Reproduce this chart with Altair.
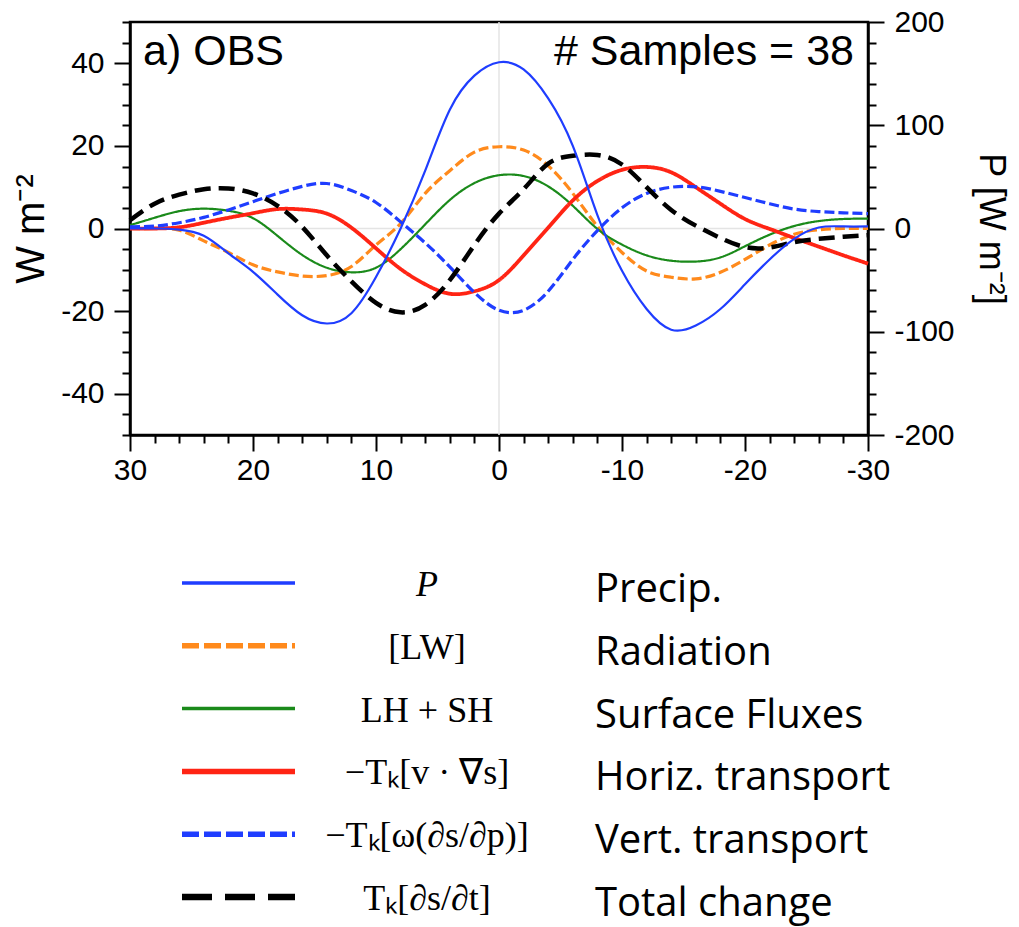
import altair as alt
import pandas as pd

# ---------------- data ----------------
lag = [30, 28, 26, 24, 22, 20, 18, 16, 14, 12, 10, 8, 6, 4, 2, 0,
       -2, -4, -6, -8, -10, -12, -14, -16, -18, -20, -22, -24, -26, -28, -30]

# Precip (right axis, W m-2)
precip = [0, 0, -1, -7, -24, -42, -64, -84, -92, -82, -47, 0, 56, 115, 148, 161,
          154, 126, 80, 13, -41, -78, -98, -94, -78, -54, -30, -10, 1, 2, 2]
# Radiation [LW]
radiation = [0, 0, -0.4, -3, -5.8, -8.8, -10.5, -11.5, -11.4, -9.2, -4, 1.2, 8.5, 14, 18.5, 19.8,
             19, 15.2, 8.5, 0.5, -5.8, -10.3, -11.8, -12.2, -10.6, -7.5, -4, -1.4, -0.3, 0, 0]
# Surface fluxes LH + SH
surface = [0.8, 2.6, 4.2, 4.8, 4.3, 2.5, -1.8, -6.4, -9.5, -10.6, -9.5, -5, 1, 6.9, 11, 12.9,
           12.7, 10.2, 5.5, -0.1, -3.9, -6.5, -7.8, -8, -7, -4.3, -1.5, 0.6, 1.8, 2.3, 2.4]
# Horizontal transport
horiz = [0, 0, 0.3, 1.4, 2.6, 3.7, 4.7, 4.6, 3.6, 0.2, -4.8, -9.8, -13.5, -15.8, -15.2, -12.5,
         -6.5, 0.2, 6.8, 11.5, 14.2, 14.9, 13.6, 10, 6, 2.3, -0.1, -2.3, -4.4, -6.5, -8.5]
# Vertical transport
vert = [0.4, 0.6, 1.4, 2.7, 4.5, 6.5, 8.5, 10.2, 10.9, 9.2, 6.3, 1.6, -3.5, -9.3, -15.5, -19.8,
        -19.8, -15.2, -7.5, -0.5, 5, 8.5, 10, 10.1, 9, 7.5, 6, 4.7, 4.1, 3.8, 3.6]
# Total change
total = [2, 6, 8.2, 9.5, 9.7, 8.5, 5.5, 0.4, -6.5, -12.8, -18, -20.3, -18.5, -12.5, -4, 3.6,
         9.5, 15.7, 17.6, 17.8, 15.5, 10, 4.5, 0.7, -2.3, -4.5, -4.6, -3.3, -2.5, -2, -1.6]

legend_keys = ["P", "LW", "SF", "HT", "VT", "TC"]
legend_math = ["P", "[LW]", "LH + SH", "−Tₖ[v · ∇s]", "−Tₖ[ω(∂s/∂p)]", "Tₖ[∂s/∂t]"]
legend_desc = ["Precip.", "Radiation", "Surface Fluxes", "Horiz. transport",
               "Vert. transport", "Total change"]

# ---------------- styles ----------------
BLUE, ORANGE, GREEN, RED, BLACK = "#1f3dff", "#ff8a1c", "#1a8a1a", "#ff2414", "#000000"
styles = {
    "P":  dict(color=BLUE,   width=2.2, dash=[1, 0], lw=3.5, ldash=[1, 0]),
    "LW": dict(color=ORANGE, width=3.2, dash=[10, 4], lw=5.5, ldash=[17, 5]),
    "SF": dict(color=GREEN,  width=2.2, dash=[1, 0], lw=3.5, ldash=[1, 0]),
    "HT": dict(color=RED,    width=3.8, dash=[1, 0], lw=5.5, ldash=[1, 0]),
    "VT": dict(color=BLUE,   width=3.2, dash=[10, 4], lw=5.5, ldash=[17, 5]),
    "TC": dict(color=BLACK,  width=4.5, dash=[16, 8], lw=6.5, ldash=[30, 13]),
}

df = pd.DataFrame({"lag": lag, "P": precip, "LW": radiation, "SF": surface,
                   "HT": horiz, "VT": vert, "TC": total})
leg = pd.DataFrame({"key": legend_keys, "math": legend_math, "desc": legend_desc})

W, H = 738, 413
AX_FONT = "Liberation Sans"
INTERP = "natural"

x_axis = alt.Axis(values=list(range(-30, 31, 2)),
                  labelExpr="datum.value % 10 === 0 ? '' + datum.value : ''",
                  tickSize={"condition": {"test": "datum.value % 10 === 0", "value": 16}, "value": 8},
                  labelFlush=False, labelOverlap=False, labelPadding=4, title=None, grid=False)
x_scale = alt.Scale(domain=[-30, 30], reverse=True, nice=False, zero=False)


def xenc(field="lag"):
    return alt.X(f"{field}:Q", scale=x_scale, axis=x_axis)


yl_scale = alt.Scale(domain=[-50, 50], nice=False, zero=False)
yl_axis = alt.Axis(values=list(range(-50, 51, 5)),
                   labelExpr="datum.value % 20 === 0 && abs(datum.value) < 50 ? '' + datum.value : ''",
                   tickSize={"condition": {"test": "datum.value % 20 === 0", "value": 16}, "value": 8},
                   labelOverlap=False, labelPadding=10, labelFlush=False, grid=False,
                   title="W m⁻²", titlePadding=9)

base = alt.Chart(df)

zero_h = alt.Chart(pd.DataFrame({"v": [0]})).mark_rule(color="#e4e4e4", strokeWidth=1.5).encode(
    y=alt.Y("v:Q", scale=yl_scale, axis=yl_axis))
zero_v = alt.Chart(pd.DataFrame({"lag": [0]})).mark_rule(color="#e4e4e4", strokeWidth=1.5).encode(
    x=xenc())

left_layers = [zero_h, zero_v]
for key in ["LW", "SF", "HT", "VT", "TC"]:
    s = styles[key]
    left_layers.append(
        base.mark_line(color=s["color"], strokeWidth=s["width"], strokeDash=s["dash"],
                       interpolate=INTERP).encode(
            x=xenc(), y=alt.Y(f"{key}:Q", scale=yl_scale, axis=yl_axis))
    )

ann1 = alt.Chart(pd.DataFrame({"t": ["a) OBS"]})).mark_text(
    font=AX_FONT, fontSize=43, align="left", baseline="alphabetic", color="black").encode(
    x=alt.value(13), y=alt.value(43), text="t:N")
ann2 = alt.Chart(pd.DataFrame({"t": ["# Samples = 38"]})).mark_text(
    font=AX_FONT, fontSize=43, align="right", baseline="alphabetic", color="black").encode(
    x=alt.value(W - 14), y=alt.value(43), text="t:N")
left_layers += [ann1, ann2]
left_group = alt.layer(*left_layers)

yr_scale = alt.Scale(domain=[-200, 200], nice=False, zero=False)
yr_axis = alt.Axis(orient="right", values=list(range(-200, 201, 20)),
                   labelExpr="datum.value % 100 === 0 ? '' + datum.value : ''",
                   tickSize={"condition": {"test": "datum.value % 100 === 0", "value": 16}, "value": 8},
                   labelOverlap=False, labelPadding=10, labelFlush=False, grid=False,
                   title="P [W m⁻²]", titlePadding=17, titleFontSize=36)
s = styles["P"]
right_group = base.mark_line(color=s["color"], strokeWidth=s["width"], interpolate=INTERP).encode(
    x=xenc(), y=alt.Y("P:Q", scale=yr_scale, axis=yr_axis))

# ---------------- legend below the plot ----------------
leg_scale = alt.Scale(type="point", domain=legend_keys, range=[561, 875], padding=0)
leg_layers = []
for key in legend_keys:
    s = styles[key]
    sub = alt.Chart(leg).transform_filter(alt.datum.key == key)
    leg_layers.append(sub.mark_rule(color=s["color"], strokeWidth=s["lw"], strokeDash=s["ldash"]).encode(
        x=alt.value(52), x2=alt.value(165), y=alt.Y("key:N", scale=leg_scale, axis=None)))
    leg_layers.append(sub.mark_text(font="Liberation Serif", fontSize=36, align="center",
                                    baseline="alphabetic", dy=13,
                                    fontStyle="italic" if key == "P" else "normal",
                                    color="black").encode(
        x=alt.value(297), y=alt.Y("key:N", scale=leg_scale, axis=None), text="math:N"))
    leg_layers.append(sub.mark_text(font="Open Sans", fontSize=40, align="left",
                                    baseline="alphabetic", dy=19, color="black").encode(
        x=alt.value(465), y=alt.Y("key:N", scale=leg_scale, axis=None), text="desc:N"))
legend_group = alt.layer(*leg_layers)

chart = alt.layer(left_group, right_group, legend_group).resolve_scale(y="independent").properties(
    width=W, height=H,
    autosize=alt.AutoSizeParams(type="none"),
    padding={"left": 130, "top": 22, "right": 151, "bottom": 492},
    background="white",
).configure_view(stroke="black", strokeWidth=2.5).configure_axis(
    domainColor="black", domainWidth=2.5, tickColor="black", tickWidth=2,
    labelFont=AX_FONT, labelFontSize=30, labelColor="black",
    titleFont=AX_FONT, titleFontSize=40, titleFontWeight="normal", titleColor="black",
    grid=False,
)

chart.save("out.html", embed_options={"renderer": "svg", "actions": False})
